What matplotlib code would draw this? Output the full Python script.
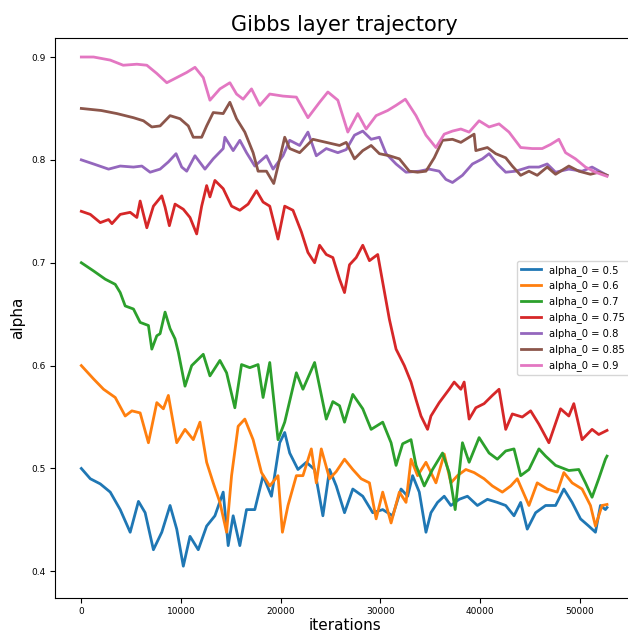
import matplotlib
matplotlib.use("Agg")
from matplotlib import pyplot as plt

# alpha trajectories (iteration, alpha)
it_05 = [0, 900, 1900, 2900, 3900, 4900, 5730, 6400, 7230, 8070, 8900, 9570, 10230, 10900, 11730,
         12570, 13400, 14230, 14730, 15230, 15900, 16570, 17400, 18230, 19070, 19900, 20400, 20900,
         21730, 22570, 23400, 24230, 24900, 25570, 26400, 27230, 28230, 29230, 30230, 31230, 32070,
         32730, 33230, 33900, 34570, 35070, 35730, 36400, 37070, 37900, 38730, 39730, 40730, 41730,
         42570, 43400, 44070, 44730, 45570, 46570, 47570, 48400, 49230, 50070, 50900, 51570, 52070,
         52570, 52730]
a_05 = [0.500, 0.490, 0.485, 0.477, 0.460, 0.438, 0.468, 0.457, 0.421, 0.438, 0.464, 0.441, 0.405,
        0.434, 0.421, 0.444, 0.454, 0.477, 0.425, 0.454, 0.425, 0.460, 0.460, 0.493, 0.473, 0.525,
        0.535, 0.515, 0.499, 0.506, 0.499, 0.454, 0.499, 0.483, 0.457, 0.480, 0.473, 0.457, 0.460,
        0.454, 0.480, 0.473, 0.493, 0.477, 0.438, 0.457, 0.467, 0.473, 0.464, 0.470, 0.473, 0.464,
        0.470, 0.467, 0.464, 0.454, 0.467, 0.441, 0.457, 0.464, 0.464, 0.480, 0.467, 0.451, 0.444,
        0.438, 0.464, 0.460, 0.462]

it_06 = [0, 1230, 2230, 3400, 4400, 5070, 5900, 6730, 7570, 8230, 8730, 9570, 10400, 11230, 11900,
         12570, 13230, 13900, 14570, 15070, 15730, 16400, 17230, 18070, 18900, 19730, 20170, 20730,
         21570, 22230, 23070, 23570, 24070, 24900, 25570, 26400, 27230, 28070, 28900, 29570, 30230,
         31070, 31900, 32570, 33070, 33730, 34570, 35570, 36400, 37070, 37730, 38570, 39400, 40400,
         41230, 42230, 43070, 43730, 44900, 45730, 46730, 47730, 48400, 49230, 50230, 51070, 51570,
         52230, 52730]
a_06 = [0.600, 0.587, 0.577, 0.569, 0.551, 0.556, 0.554, 0.525, 0.564, 0.558, 0.571, 0.525, 0.538,
        0.528, 0.545, 0.506, 0.486, 0.467, 0.438, 0.493, 0.541, 0.548, 0.528, 0.496, 0.483, 0.493,
        0.438, 0.464, 0.493, 0.493, 0.519, 0.486, 0.519, 0.490, 0.497, 0.509, 0.499, 0.490, 0.486,
        0.451, 0.477, 0.447, 0.477, 0.467, 0.509, 0.493, 0.506, 0.486, 0.514, 0.486, 0.493, 0.499,
        0.496, 0.490, 0.483, 0.477, 0.483, 0.490, 0.464, 0.486, 0.480, 0.477, 0.496, 0.486, 0.480,
        0.464, 0.444, 0.464, 0.465]

it_07 = [0, 1230, 2400, 3400, 3900, 4400, 5230, 5900, 6730, 7070, 7570, 7900, 8400, 8900, 9400, 9730,
         10400, 11070, 12230, 12900, 13900, 14570, 15400, 16070, 16900, 17730, 18230, 18900, 19730,
         20400, 21570, 22230, 23400, 24570, 25230, 25900, 26400, 27230, 28230, 29070, 30230, 31070,
         31570, 32230, 33070, 33570, 34400, 35230, 36230, 36900, 37500, 38230, 38900, 39900, 40900,
         41730, 42570, 43400, 44070, 44900, 45900, 46570, 47570, 48900, 49900, 50570, 51230, 51900,
         52570, 52730]
a_07 = [0.700, 0.692, 0.684, 0.679, 0.671, 0.658, 0.655, 0.642, 0.639, 0.616, 0.629, 0.631, 0.652,
        0.636, 0.626, 0.613, 0.580, 0.600, 0.611, 0.590, 0.605, 0.593, 0.559, 0.601, 0.598, 0.601,
        0.569, 0.603, 0.528, 0.545, 0.593, 0.577, 0.603, 0.548, 0.565, 0.561, 0.545, 0.572, 0.558,
        0.538, 0.545, 0.525, 0.503, 0.524, 0.528, 0.503, 0.483, 0.499, 0.515, 0.496, 0.460, 0.525,
        0.506, 0.530, 0.515, 0.509, 0.517, 0.519, 0.493, 0.499, 0.519, 0.512, 0.503, 0.498, 0.499,
        0.486, 0.472, 0.490, 0.509, 0.512]

it_075 = [0, 900, 1900, 2730, 3070, 3900, 4900, 5570, 5900, 6570, 7230, 8070, 8400, 8830, 9400,
          10230, 10900, 11570, 12070, 12570, 12900, 13400, 14230, 15070, 15900, 16730, 17570, 18230,
          18900, 19730, 20400, 21230, 22070, 22730, 23400, 23900, 24570, 25230, 25900, 26400, 26900,
          27570, 28230, 28900, 29730, 30230, 30900, 31570, 32400, 33070, 33570, 34070, 34730, 35070,
          35900, 36900, 37400, 38070, 38400, 38900, 39570, 40400, 41230, 41900, 42570, 43230, 44230,
          45070, 45900, 46900, 48070, 48900, 49400, 50230, 51230, 51900, 52730]
a_075 = [0.750, 0.747, 0.739, 0.742, 0.738, 0.747, 0.749, 0.744, 0.760, 0.734, 0.755, 0.765, 0.754,
         0.736, 0.757, 0.752, 0.744, 0.728, 0.755, 0.775, 0.764, 0.780, 0.772, 0.755, 0.751, 0.757,
         0.770, 0.759, 0.755, 0.723, 0.755, 0.751, 0.730, 0.710, 0.700, 0.717, 0.708, 0.705, 0.684,
         0.671, 0.698, 0.705, 0.717, 0.702, 0.708, 0.681, 0.645, 0.616, 0.600, 0.584, 0.567, 0.551,
         0.538, 0.551, 0.564, 0.577, 0.584, 0.577, 0.584, 0.548, 0.559, 0.563, 0.571, 0.577, 0.538,
         0.553, 0.550, 0.556, 0.543, 0.525, 0.558, 0.551, 0.563, 0.528, 0.538, 0.533, 0.537]

it_08 = [0, 1230, 2730, 3900, 5230, 6070, 6900, 7900, 8730, 9500, 10070, 10570, 11400, 12400, 13230,
         14230, 14400, 15230, 15900, 16570, 17400, 18570, 19230, 20230, 20900, 21900, 22730, 23570,
         24570, 25730, 26570, 27400, 28230, 29070, 29900, 30570, 31570, 32570, 33900, 34900, 35900,
         36570, 37230, 38230, 39230, 40230, 40900, 41730, 42570, 43570, 44900, 45900, 46730, 47570,
         48900, 50230, 51230, 52730]
a_08 = [0.800, 0.796, 0.791, 0.794, 0.793, 0.794, 0.788, 0.791, 0.798, 0.806, 0.793, 0.789, 0.804,
        0.791, 0.801, 0.811, 0.822, 0.809, 0.819, 0.807, 0.794, 0.804, 0.791, 0.804, 0.819, 0.814,
        0.827, 0.804, 0.811, 0.807, 0.810, 0.824, 0.828, 0.820, 0.822, 0.806, 0.796, 0.788, 0.789,
        0.791, 0.789, 0.781, 0.778, 0.785, 0.796, 0.801, 0.806, 0.796, 0.788, 0.789, 0.793, 0.793,
        0.796, 0.788, 0.791, 0.789, 0.793, 0.785]

it_085 = [0, 2000, 3570, 5230, 6230, 7070, 7900, 8900, 9900, 10730, 11230, 12070, 12570, 13230, 14230,
          14900, 15570, 16400, 17230, 17730, 18570, 19300, 19730, 20400, 20900, 21900, 23230, 24570,
          25900, 26570, 27400, 28230, 29070, 29900, 30900, 31900, 32900, 33730, 34570, 35400, 36230,
          37230, 38070, 38900, 39400, 39570, 40730, 41570, 42570, 43230, 44070, 44900, 45730, 46730,
          47570, 48900, 49900, 51070, 51900, 52730]
a_085 = [0.850, 0.848, 0.845, 0.841, 0.838, 0.832, 0.833, 0.843, 0.840, 0.833, 0.822, 0.822, 0.833,
         0.846, 0.845, 0.856, 0.840, 0.827, 0.807, 0.789, 0.789, 0.777, 0.794, 0.822, 0.811, 0.807,
         0.820, 0.817, 0.814, 0.817, 0.801, 0.809, 0.814, 0.806, 0.804, 0.801, 0.789, 0.788, 0.789,
         0.802, 0.819, 0.820, 0.817, 0.822, 0.825, 0.809, 0.812, 0.806, 0.802, 0.794, 0.785, 0.789,
         0.785, 0.793, 0.786, 0.794, 0.789, 0.786, 0.788, 0.785]

it_09 = [0, 1230, 2900, 4200, 5570, 6570, 7570, 8570, 9570, 10570, 11400, 12230, 12900, 13900, 14900,
         15570, 16230, 17070, 17900, 18900, 20230, 21570, 22730, 23900, 24730, 25730, 26730, 27730,
         28570, 29570, 30730, 31570, 32500, 33570, 34570, 35570, 36400, 37230, 38070, 38900, 39900,
         40900, 41900, 42900, 44070, 45230, 46230, 47070, 47900, 48570, 49570, 50570, 51570, 52730]
a_09 = [0.900, 0.900, 0.897, 0.892, 0.893, 0.892, 0.884, 0.875, 0.880, 0.885, 0.890, 0.880, 0.858,
        0.869, 0.875, 0.864, 0.859, 0.869, 0.853, 0.864, 0.862, 0.861, 0.841, 0.856, 0.866, 0.858,
        0.827, 0.845, 0.830, 0.843, 0.848, 0.853, 0.859, 0.843, 0.824, 0.812, 0.825, 0.828, 0.830,
        0.827, 0.838, 0.832, 0.835, 0.827, 0.812, 0.811, 0.811, 0.815, 0.820, 0.807, 0.801, 0.793,
        0.788, 0.784]

alpha_0 = ['0.5', '0.6', '0.7', '0.75', '0.8', '0.85', '0.9']
iters = [it_05, it_06, it_07, it_075, it_08, it_085, it_09]
alphas = [a_05, a_06, a_07, a_075, a_08, a_085, a_09]

fig = plt.figure(figsize=(6.28, 6.33), dpi=100)
# the reference is cropped on the right, so the axes run past the figure edge
ax = fig.add_axes([0.0876, 0.056, 0.922, 0.884])

for i in range(len(alpha_0)):
    ax.plot(iters[i], alphas[i], lw=2, label='alpha_0 = ' + alpha_0[i])

ax.set_xlim(-2640, 55440)
ax.set_ylim(0.3745, 0.9185)
ax.set_title('Gibbs layer trajectory', fontsize=15, pad=5)
ax.set_xlabel('iterations', fontsize=11, labelpad=1)
ax.set_ylabel('alpha', fontsize=11)
ax.tick_params(labelsize=6.5)
ax.legend(loc='center right', fontsize=7.2)

fig.savefig('out.png', dpi=100)
